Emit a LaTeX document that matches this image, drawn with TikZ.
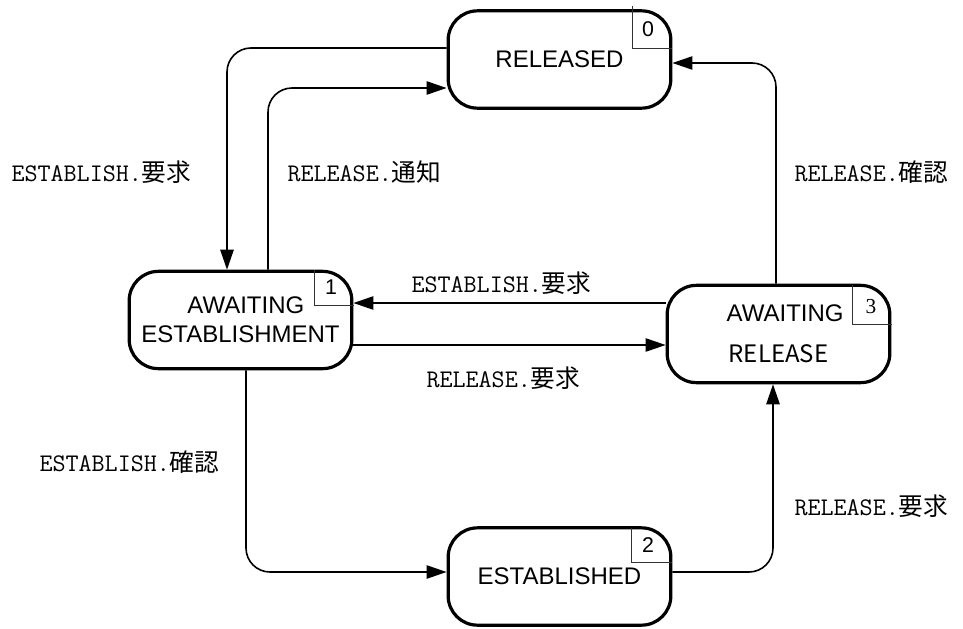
\documentclass[tikz,border=0pt]{standalone}
\usepackage{fontspec}
\setmainfont{Liberation Sans}
\newfontfamily\cjkfont{Noto Sans CJK JP}
\newfontfamily\numfont{Liberation Serif}
\usetikzlibrary{arrows.meta}

\tikzset{every picture/.style={line width=0.75pt}}
\tikzset{
  state/.style={draw, line width=2.4pt, rounded corners=22pt, minimum width=167pt, minimum height=73pt,
    align=center, inner sep=0pt, font=\fontsize{18}{21.5}\selectfont},
  conn/.style={line width=1.2pt, rounded corners=18pt, -{Triangle[length=15pt,width=10pt]}},
  tagline/.style={line width=0.7pt, color=black!80},
  tagnum/.style={inner sep=0.75pt, font=\fontsize{16}{16}\selectfont},
  lbl/.style={anchor=west, inner sep=0.75pt, font=\fontsize{19}{22}\ttfamily},
}
\newcommand{\cj}[1]{{\fontsize{18.5}{20}\cjkfont #1}}

\begin{document}
\begin{tikzpicture}[x=0.75pt,y=0.75pt,yscale=-1,xscale=1]
\useasboundingbox (0,0) rectangle (963,628);

% States
\node [state] (released) at (559.5,59.5) {RELEASED};
\node [state] (awest) at (240.5,320) {\hspace*{8pt}AWAITING\\ESTABLISHMENT};
\node [state] (arel) at (778.5,334) {\hspace*{10pt}AWAITING\\[9pt]{\cjkfont RELEASE}};
\node [state] (estd) at (559.5,576.5) {ESTABLISHED};

% State numbers
\draw [tagline] (632,6) |- (672,48);
\node [tagnum] (n0) at (648,29) {0};
\draw [tagline] (314,270) |- (354,305);
\node [tagnum] (n1) at (331,287) {1};
\draw [tagline] (852,285) |- (892,324);
\node [tagnum] (n3) at (871,307) {\numfont 3};
\draw [tagline] (631,528) |- (672,562);
\node [tagnum] (n2) at (648,545) {2};

% Transitions
\draw [conn] (released.west |- 0,48) -| (awest.north -| 227,0);
\draw [conn] (awest.north -| 268,0) |- (released.west |- 0,88);
\draw [conn] (arel.west |- 0,303) -- (awest.east |- 0,303);
\draw [conn] (awest.east |- 0,345) -- (arel.west |- 0,345);
\draw [conn] (awest.south -| 246,0) |- (estd.west |- 0,572);
\draw [conn] (estd.east |- 0,572) -| (arel.south -| 773,0);
\draw [conn] (arel.north -| 776,0) |- (released.east |- 0,63);

% Labels
\node [lbl] (l1) at (10,172) {ESTABLISH.\cj{要求}};
\node [lbl] (l2) at (286,172) {RELEASE.\cj{通知}};
\node [lbl] (l3) at (793,172) {RELEASE.\cj{確認}};
\node [lbl] (l4) at (410,283) {ESTABLISH.\cj{要求}};
\node [lbl] (l5) at (425,378) {RELEASE.\cj{要求}};
\node [lbl] (l6) at (38,462) {ESTABLISH.\cj{確認}};
\node [lbl] (l7) at (793,506) {RELEASE.\cj{要求}};

\end{tikzpicture}
\end{document}
